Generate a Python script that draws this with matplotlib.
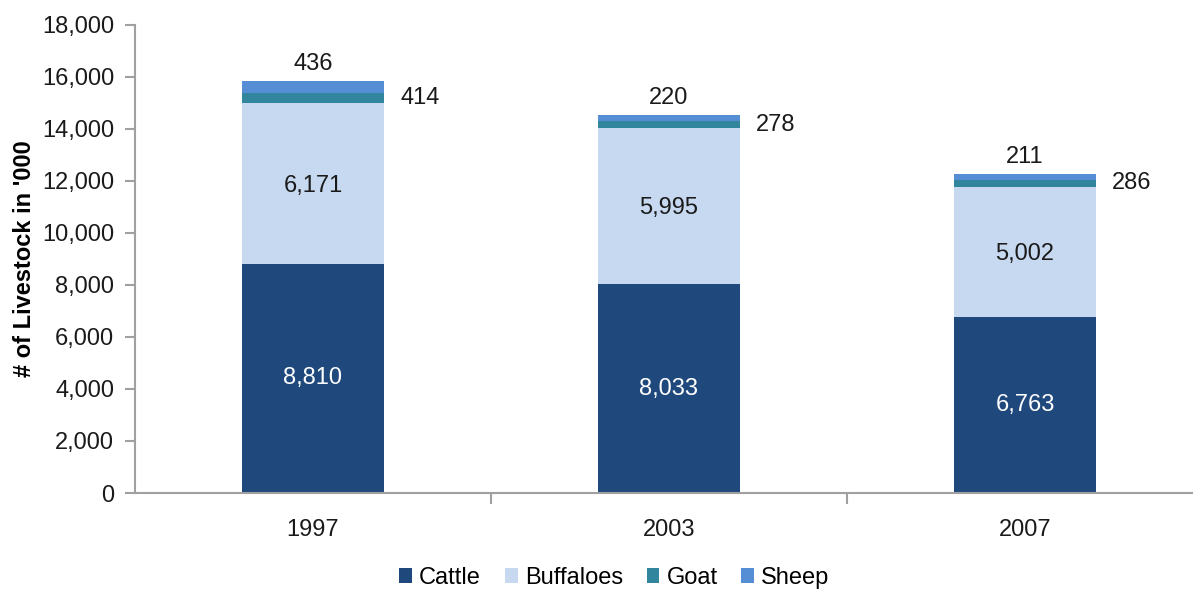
import numpy as np
import matplotlib.pyplot as plt
from matplotlib import font_manager

names = {f.name for f in font_manager.fontManager.ttflist}
family = "Liberation Sans Narrow" if "Liberation Sans Narrow" in names else "Liberation Sans"
plt.rcParams["font.family"] = [family, "DejaVu Sans"]

years = ["1997", "2003", "2007"]
cattle = [8810, 8033, 6763]
buffaloes = [6171, 5995, 5002]
goat = [414, 278, 286]
sheep = [436, 220, 211]

c_cattle = "#1f497d"
c_buff = "#c6d9f0"
c_goat = "#31859c"
c_sheep = "#558ed5"

fig = plt.figure(figsize=(11.93, 5.94), dpi=100)
ax = fig.add_axes([135 / 1193, 101 / 594, 1068 / 1193, 468 / 594])

x = np.arange(len(years))
w = 0.4
b1 = np.array(cattle)
b2 = b1 + np.array(buffaloes)
b3 = b2 + np.array(goat)

ax.bar(x, cattle, w, color=c_cattle, label="Cattle")
ax.bar(x, buffaloes, w, bottom=b1, color=c_buff, label="Buffaloes")
ax.bar(x, goat, w, bottom=b2, color=c_goat, label="Goat")
ax.bar(x, sheep, w, bottom=b3, color=c_sheep, label="Sheep")

fs = 17
for i in range(len(years)):
    ax.text(x[i], cattle[i] / 2, f"{cattle[i]:,}", ha="center", va="center",
            color="white", fontsize=fs)
    ax.text(x[i], b1[i] + buffaloes[i] / 2 - 80, f"{buffaloes[i]:,}", ha="center",
            va="center", color="#1a1a1a", fontsize=fs)
    ax.text(x[i] + w / 2 + 0.045, b2[i] + goat[i] / 2, f"{goat[i]:,}", ha="left",
            va="center", color="#1a1a1a", fontsize=fs)
    ax.text(x[i], b3[i] + sheep[i] + 250, f"{sheep[i]:,}", ha="center",
            va="bottom", color="#1a1a1a", fontsize=fs)

ax.set_xlim(-0.5, 2.5)
ax.set_ylim(0, 18000)
ax.set_yticks(np.arange(0, 18001, 2000))
ax.yaxis.set_major_formatter(plt.FuncFormatter(lambda v, p: f"{int(v):,}"))
ax.set_xticks(x)
ax.set_xticklabels(years)
ax.set_xticks([0.5, 1.5], minor=True)
ax.tick_params(axis="x", which="major", length=0, pad=19, labelsize=fs, colors="#1a1a1a")
ax.tick_params(axis="x", which="minor", length=8, color="#a0a0a0", width=1.5)
ax.tick_params(axis="y", length=7, color="#a0a0a0", width=1.5, labelsize=fs,
               labelcolor="#1a1a1a", pad=8)

for s in ["top", "right"]:
    ax.spines[s].set_visible(False)
for s in ["left", "bottom"]:
    ax.spines[s].set_color("#a0a0a0")
    ax.spines[s].set_linewidth(1.5)

ax.set_ylabel("# of Livestock in '000", fontsize=fs, fontweight="bold", labelpad=4)

fig.legend(loc="lower center", bbox_to_anchor=(0.515, -0.027), ncol=4, frameon=False,
           fontsize=fs, handlelength=0.55, handleheight=0.55, handletextpad=0.3,
           columnspacing=1.0)

fig.savefig("out.png", dpi=100)
